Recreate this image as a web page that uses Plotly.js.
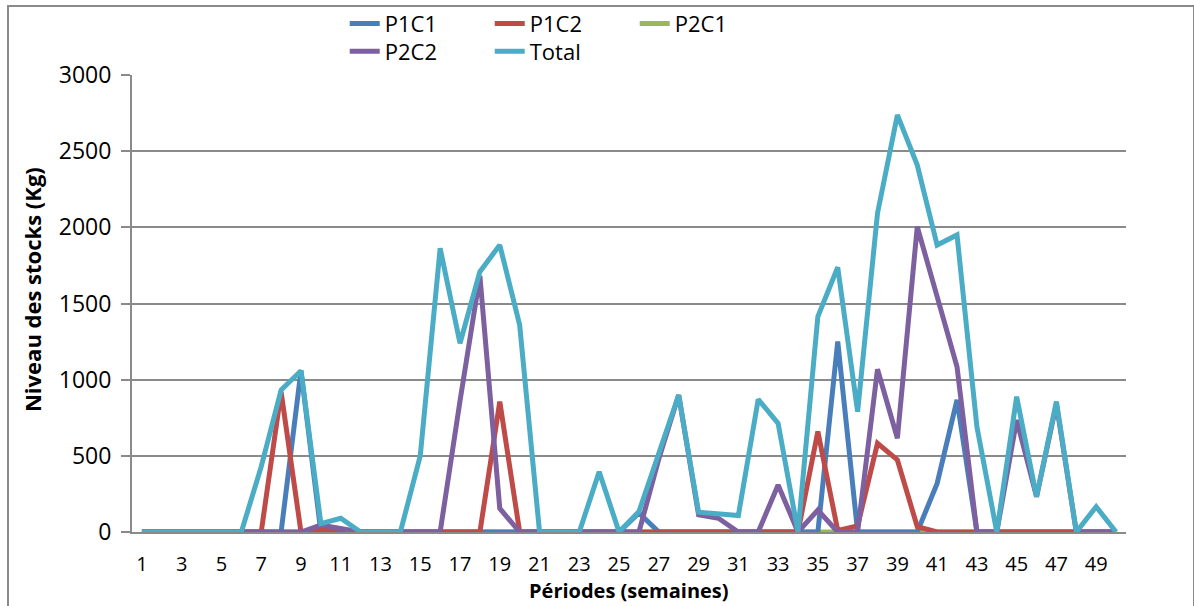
<!DOCTYPE html>
<html>
<head>
<meta charset="utf-8">
<script src="https://cdn.plot.ly/plotly-3.0.1.min.js"></script>
<style>
  html, body { margin: 0; padding: 0; background: #fff; }
  #wrap { position: relative; width: 1194px; height: 606px; overflow: hidden; }
  #chart { position: absolute; left: 0; top: 0; width: 1194px; height: 606px; }
  #frame { position: absolute; left: 7px; top: 5px; width: 1184px; height: 640px; border: 2px solid #8a8a8a; pointer-events: none; }
</style>
</head>
<body>
<div id="wrap">
  <div id="chart"></div>
  <div id="frame"></div>
</div>
<script>
const periods = Array.from({length: 50}, (_, i) => i + 1);
const seriesNames = ["P1C1", "P1C2", "P2C1", "P2C2", "Total"];

const p1c1 = [0,0,0,0,0,0,0,0,1059,0, 0,0,0,0,0,0,0,0,0,0, 0,0,0,0,0,125,0,0,0,0, 0,0,0,0,0,1250,0,0,0,0, 319,867,0,0,0,0,0,0,0,0];
const p1c2 = [0,0,0,0,0,0,0,920,0,15, 0,0,0,0,0,0,0,0,856,0, 0,0,0,0,0,0,0,0,0,0, 0,0,0,0,659,10,40,582,473,35, 0,0,0,0,0,0,0,0,0,0];
const p2c1 = [0,0,0,0,0,0,0,0,0,0, 0,0,0,0,0,0,0,0,0,0, 0,0,0,0,0,0,0,0,0,0, 0,0,0,0,0,0,0,0,0,0, 0,0,0,0,0,0,0,0,0,0];
const p2c2 = [0,0,0,0,0,0,0,0,0,45, 25,0,0,0,0,0,860,1680,155,0, 0,0,0,0,0,0,480,899,112,90, 0,0,309,0,144,0,0,1068,615,2004, 1545,1085,0,0,735,232,840,0,0,0];
const total = [0,0,0,0,0,0,429,932,1059,55, 90,0,0,0,500,1862,1239,1709,1884,1359, 0,0,0,396,0,134,510,899,130,122, 108,871,713,0,1414,1738,790,2092,2738,2409, 1884,1950,691,0,888,232,856,0,166,0];

const yTicks = [0, 500, 1000, 1500, 2000, 2500, 3000];
const xTicks = periods.filter(p => p % 2 === 1);
const xTitle = "Périodes (semaines)";
const yTitle = "Niveau des stocks (Kg)";

const colors = ["#4A7EBB", "#BE4B48", "#98B954", "#7D60A0", "#4BACC6"];
const values = [p1c1, p1c2, p2c1, p2c2, total];
const legends = ["legend", "legend", "legend", "legend2", "legend2"];
// drawing order: P2C1 lies underneath the others (as in the reference)
const drawOrder = [2, 0, 1, 3, 4];

const traces = drawOrder.map(i => ({
  type: "scatter",
  mode: "lines",
  name: seriesNames[i],
  x: periods,
  y: values[i],
  line: {color: colors[i], width: 5},
  legend: legends[i],
  legendrank: i + 1
}));

const font = "Open Sans, Liberation Sans, sans-serif";
const legendCommon = {
  orientation: "h",
  x: 0.214, xanchor: "left",
  yanchor: "middle",
  entrywidth: 100, entrywidthmode: "pixels",
  font: {family: font, size: 22, color: "#000"},
  bgcolor: "rgba(0,0,0,0)",
  traceorder: "normal",
  itemclick: false
};

const layout = {
  width: 1194, height: 606,
  margin: {l: 132, r: 68, t: 75, b: 74, autoexpand: false},
  paper_bgcolor: "#fff", plot_bgcolor: "#fff",
  showlegend: true,
  legend: Object.assign({}, legendCommon, {y: 1.112}),
  legend2: Object.assign({}, legendCommon, {y: 1.0516}),
  xaxis: {
    range: [0.5, 50.5],
    tickmode: "array", tickvals: xTicks, ticktext: xTicks.map(String),
    showgrid: false, zeroline: false,
    showline: true, linecolor: "#8a8a8a", linewidth: 2,
    ticks: "",
    ticklabelstandoff: 13,
    tickfont: {family: font, size: 20, color: "#000"}
  },
  yaxis: {
    range: [0, 3000],
    tickmode: "array", tickvals: yTicks, ticktext: yTicks.map(String),
    showgrid: true, gridcolor: "#8a8a8a", gridwidth: 2,
    zeroline: false,
    showline: true, linecolor: "#8a8a8a", linewidth: 2,
    ticks: "outside", ticklen: 9, tickwidth: 2, tickcolor: "#8a8a8a",
    ticklabelstandoff: 5,
    tickfont: {family: font, size: 23, color: "#000"}
  },
  annotations: [
    {text: "<b>" + xTitle + "</b>", xref: "paper", yref: "paper", x: 0.5, y: -0.1291,
     xanchor: "center", yanchor: "middle", showarrow: false,
     font: {family: font, size: 20, color: "#000"}},
    {text: "<b>" + yTitle + "</b>", xref: "paper", yref: "paper", x: -0.1006, y: 0.5295,
     xanchor: "center", yanchor: "middle", textangle: -90, showarrow: false,
     font: {family: font, size: 22, color: "#000"}}
  ]
};

Plotly.newPlot("chart", traces, layout, {staticPlot: true, displayModeBar: false});
</script>
</body>
</html>
